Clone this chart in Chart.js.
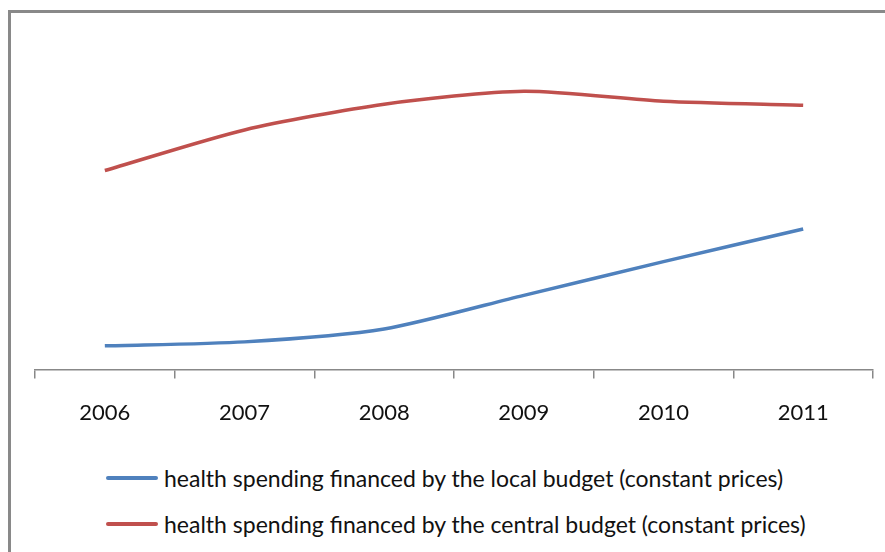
<!DOCTYPE html>
<html>
<head>
<meta charset="utf-8">
<script src="https://cdn.jsdelivr.net/npm/chart.js@4.4.1/dist/chart.umd.min.js"></script>
<style>
	body { margin: 0; background: #fff; width: 885px; height: 552px; overflow: hidden; position: relative; font-family: Lato, "Liberation Sans", sans-serif; }
	#frame { position: absolute; left: 8px; top: 10px; width: 900px; height: 600px; border-left: 3px solid #898989; border-top: 3px solid #898989; }
	#chartBox { position: absolute; left: 0; top: 0; width: 885px; height: 451px; }
	#legend { position: absolute; left: 106px; top: 455px; }
	.legendRow { display: flex; align-items: center; height: 46px; }
	.swatch { width: 52px; height: 4px; border-radius: 2px; margin-right: 6px; }
	.legendText { font-size: 23px; color: #111; white-space: nowrap; }
</style>
</head>
<body>
<div id="frame"></div>
<div id="chartBox"><canvas id="spendingChart"></canvas></div>
<div id="legend"></div>
<script>
// data (no y axis shown, arbitrary units)
const years = ["2006", "2007", "2008", "2009", "2010", "2011"];
const localBudget = [24, 28, 41, 75, 109, 142];
const centralBudget = [201, 242, 268, 281, 271, 267];
const seriesNames = [
	"health spending financed by the local budget (constant prices)",
	"health spending financed by the central budget (constant prices)"
];
const seriesColors = ["#4F81BD", "#C0504D"];

let ctx = document.getElementById("spendingChart").getContext("2d");
let spendingChart = new Chart(ctx, {
	type: "line",
	data: {
		labels: years,
		datasets: [{
			label: seriesNames[0],
			data: localBudget,
			borderColor: seriesColors[0],
			backgroundColor: seriesColors[0],
			borderWidth: 3.5,
			pointRadius: 0,
			tension: 0.25
		}, {
			label: seriesNames[1],
			data: centralBudget,
			borderColor: seriesColors[1],
			backgroundColor: seriesColors[1],
			borderWidth: 3.5,
			pointRadius: 0,
			tension: 0.25
		}]
	},
	options: {
		responsive: true,
		maintainAspectRatio: false,
		animation: false,
		layout: { padding: { left: 35, right: 12, top: 23, bottom: 4 } },
		plugins: {
			legend: { display: false },
			tooltip: { enabled: false }
		},
		scales: {
			x: {
				offset: true,
				grid: { offset: true, drawOnChartArea: false, tickLength: 9, color: "#888", lineWidth: 1.5 },
				border: { color: "#888", width: 1.5 },
				ticks: { color: "#111", padding: 21, font: { family: "Lato", size: 22 } }
			},
			y: {
				display: false,
				min: 0,
				max: 350
			}
		}
	}
});

//build legend below the chart
let legendDiv = document.getElementById("legend");
for (let i = 0; i < seriesNames.length; i++) {
	let row = document.createElement("div");
	row.classList.add("legendRow");
	let swatch = document.createElement("div");
	swatch.classList.add("swatch");
	swatch.style.background = seriesColors[i];
	row.appendChild(swatch);
	let txt = document.createElement("span");
	txt.classList.add("legendText");
	txt.innerText = seriesNames[i];
	row.appendChild(txt);
	legendDiv.appendChild(row);
}
</script>
</body>
</html>
